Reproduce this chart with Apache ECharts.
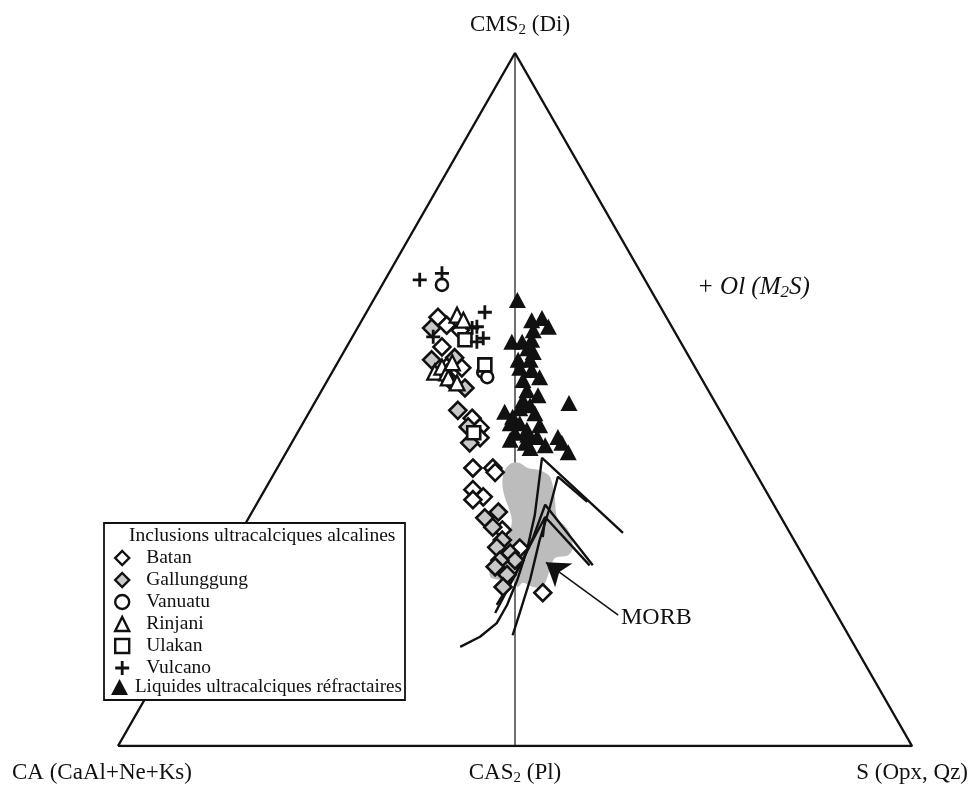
<!DOCTYPE html>
<html>
<head>
<meta charset="utf-8">
<script src="https://cdn.jsdelivr.net/npm/echarts@6/dist/echarts.min.js"></script>
<style>
html,body{margin:0;padding:0;background:#fff;}
#c{width:973px;height:785px;}
</style>
</head>
<body>
<div id="c"></div>
<script>
// Ternary diagram in relative units: x 0..100 along base (CA -> S), y 0..100 up to CMS2 apex
const triangle = [[0,0],[100,0],[50,100],[0,0]];
const midline = [[50,0],[50,100]];

const batan = [[40.3,61.86],[41.4,60.71],[43.1,59.98],[40.8,57.59],[41.4,54.68],[43.3,54.57],[41.8,52.81],
  [44.6,47.29],[45.6,45.94],[45.6,44.48],[44.7,40.11],[47.2,40.11],[47.5,39.49],[44.7,36.99],[46.0,35.95],
  [44.7,35.54],[48.4,31.17],[50.6,28.56],[53.5,22.11]];
const gallunggung = [[39.5,60.30],[39.5,55.72],[42.4,56.03],[43.7,51.66],[42.8,48.44],[44.1,46.04],[44.3,43.75],
  [46.2,32.93],[47.9,33.77],[47.2,31.58],[48.4,29.71],[47.7,28.67],[49.4,27.84],[50.0,26.80],[48.1,26.80],
  [47.5,25.86],[49.0,24.72],[48.5,22.95]];
const vanuatu = [[40.8,66.54],[46.0,53.95],[46.5,53.22]];
const rinjani = [[42.7,62.17],[43.5,61.44],[39.9,53.95],[40.8,54.68],[41.4,53.85],[41.6,53.12],[42.7,52.39],[42.1,55.30]];
const ulakan = [[43.7,58.63],[46.2,54.99],[44.8,45.21]];
const vulcano = [[38.0,67.27],[40.8,68.20],[46.2,62.59],[44.6,60.30],[45.2,60.50],[46.0,58.84],[45.2,58.32],[39.7,59.05]];
const liquides = [[50.3,64.35],[52.1,61.44],[53.4,61.75],[54.2,60.50],[52.3,59.98],[49.6,58.32],[50.9,58.32],
  [52.1,58.63],[52.3,56.86],[51.6,57.4],[50.4,55.72],[51.9,55.72],[50.6,54.57],[52.1,54.26],[53.1,53.22],
  [51.0,52.81],[51.5,51.35],[52.9,50.6],[51.0,49.89],[51.9,49.16],[50.6,48.75],[48.7,48.23],[49.7,47.50],
  [52.5,48.02],[49.4,46.56],[50.6,46.56],[53.1,46.3],[51.5,45.63],[50.0,45.2],[52.8,44.59],[51.3,43.75],
  [51.6,44.90],[49.4,44.2],[53.8,43.4],[51.9,43.0],[55.4,44.59],[55.9,43.75],[56.7,42.40],[56.8,49.48]];

const morbField = [[49.6,40.84],[50.6,40.84],[51.6,40.11],[53.1,39.80],[54.4,38.86],[55.0,35.95],[55.3,33.04],
  [56.7,31.17],[57.3,28.67],[56.7,27.52],[55.0,27.11],[54.4,25.44],[53.5,22.95],[52.3,22.95],[51.0,23.57],
  [50.3,22.95],[49.6,23.99],[48.1,23.99],[46.9,24.40],[46.9,25.86],[48.1,27.32],[49.0,29.71],[49.6,32.62],
  [48.7,35.95],[48.4,37.93],[48.7,39.80]];

const curveA = [[43.1,14.31],[45.6,15.77],[47.7,17.74],[49.0,20.35],[50.3,23.99],[51.5,28.25],[52.5,33.35],[53.4,41.57],[63.6,30.75]];
const curveB = [[49.7,15.98],[50.6,19.20],[51.9,23.99],[53.1,29.71],[54.4,34.49],[55.4,38.86],[59.1,35.22]];
const curveC = [[47.5,19.20],[48.7,21.80],[49.7,23.99],[51.0,26.80],[52.3,30.13],[53.8,34.81],[59.8,26.07]];
const curveD = [[47.7,20.35],[50.0,24.72],[51.9,28.98],[53.8,33.04],[59.4,26.07]];
const curveE = [[53.8,33.04],[53.5,30.13]];
const arrow = [[63.0,18.9],[53.9,26.5]];

const legendItems = ['Batan','Gallunggung','Vanuatu','Rinjani','Ulakan','Vulcano'];
const legendLiq = 'Liquides ultracalciques réfractaires';

const serif = '"Liberation Serif", "DejaVu Serif", serif';
const plusPath = 'path://M4,0H6V4H10V6H6V10H4V6H0V4H4Z';

function lineSeries(data, w){
  return {type:'line', data:data, showSymbol:false, symbol:'none',
    lineStyle:{color:'#111', width:w}, z:3, silent:true};
}
function scatter(name, data, symbol, size, fill, bw){
  return {type:'scatter', name:name, data:data, symbol:symbol, symbolSize:size,
    itemStyle:{color:fill, borderColor:'#111', borderWidth:bw, opacity:1}, z:5};
}

const chart = echarts.init(document.getElementById('c'));
chart.setOption({
  animation:false,
  grid:{left:118, right:61, top:53, bottom:39},
  xAxis:{type:'value', min:0, max:100, show:false},
  yAxis:{type:'value', min:0, max:100, show:false},
  legend:[
    {orient:'vertical', left:114, top:548, padding:0, itemWidth:14, itemHeight:14, itemGap:2, z:20,
     data:legendItems, itemStyle:{borderWidth:2.4},
     textStyle:{fontFamily:serif, fontSize:19.5, lineHeight:20, color:'#111', padding:[0,0,0,12]}},
    {orient:'vertical', left:111, top:677, padding:0, itemWidth:17, itemHeight:16, itemGap:2, z:20,
     data:[legendLiq],
     textStyle:{fontFamily:serif, fontSize:19, lineHeight:20, color:'#111', padding:[0,0,0,2]}}
  ],
  graphic:[
    {type:'rect', shape:{x:104, y:523, width:301, height:177}, style:{fill:'#fff', stroke:'#111', lineWidth:1.8}, z:10},
    {type:'text', x:129, y:536, style:{text:'Inclusions ultracalciques alcalines', font:'19.5px '+serif, fill:'#111', textVerticalAlign:'middle'}, z:21},
    {type:'text', x:520, y:25, style:{text:'{a|CMS}{s|2}{a| (Di)}', textAlign:'center', textVerticalAlign:'middle',
      rich:{a:{fontSize:23, fontFamily:serif, fill:'#111', verticalAlign:'top', lineHeight:24},
            s:{fontSize:15, fontFamily:serif, fill:'#111', verticalAlign:'top', lineHeight:24, padding:[10,0,0,0]}}}},
    {type:'text', x:12, y:773, style:{text:'CA (CaAl+Ne+Ks)', font:'23px '+serif, fill:'#111', textVerticalAlign:'middle'}},
    {type:'text', x:515, y:773, style:{text:'{a|CAS}{s|2}{a| (Pl)}', textAlign:'center', textVerticalAlign:'middle',
      rich:{a:{fontSize:23, fontFamily:serif, fill:'#111', verticalAlign:'top', lineHeight:24},
            s:{fontSize:15, fontFamily:serif, fill:'#111', verticalAlign:'top', lineHeight:24, padding:[10,0,0,0]}}}},
    {type:'text', x:968, y:773, style:{text:'S (Opx, Qz)', font:'23px '+serif, fill:'#111', textAlign:'right', textVerticalAlign:'middle'}},
    {type:'text', x:697, y:288, style:{text:'{a|+ Ol (M}{s|2}{a|S)}', textVerticalAlign:'middle',
      rich:{a:{fontSize:25, fontStyle:'italic', fontFamily:serif, fill:'#111', verticalAlign:'top', lineHeight:27},
            s:{fontSize:17, fontStyle:'italic', fontFamily:serif, fill:'#111', verticalAlign:'top', lineHeight:27, padding:[10,0,0,0]}}}},
    {type:'text', x:621, y:618, style:{text:'MORB', font:'24px '+serif, fill:'#111', textVerticalAlign:'middle'}}
  ],
  series:[
    {type:'line', data:triangle, showSymbol:false, symbol:'none', lineStyle:{color:'#111', width:2.4}, z:1, silent:true},
    {type:'line', data:midline, showSymbol:false, symbol:'none', lineStyle:{color:'#111', width:1.2}, z:1, silent:true},
    {type:'custom', z:2, silent:true, data:[0],
     renderItem:function(params, api){
       const pts = morbField.map(p => api.coord(p));
       return {type:'polygon', shape:{points:pts, smooth:0.3}, style:{fill:'#bcbcbc', stroke:null}};
     }},
    lineSeries(curveA, 2.4),
    lineSeries(curveB, 2.4),
    lineSeries(curveC, 2.4),
    lineSeries(curveD, 2.4),
    lineSeries(curveE, 2.4),
    {type:'lines', coordinateSystem:'cartesian2d', z:4, silent:true,
     data:[{coords:arrow}], symbol:['none','arrow'], symbolSize:[14,22],
     lineStyle:{color:'#111', width:1.5, opacity:1}},
    scatter('Batan', batan, 'diamond', 17, '#ffffff', 2.6),
    scatter('Gallunggung', gallunggung, 'diamond', 17, '#c8c8c8', 2.6),
    scatter('Vanuatu', vanuatu, 'circle', 12, '#ffffff', 2.6),
    scatter('Rinjani', rinjani, 'triangle', 15, '#ffffff', 2.3),
    scatter('Ulakan', ulakan, 'rect', 13, '#ffffff', 2.6),
    {type:'scatter', name:'Vulcano', data:vulcano, symbol:plusPath, symbolSize:14,
     itemStyle:{color:'#111', opacity:1}, z:5},
    {type:'scatter', name:legendLiq, data:liquides, symbol:'triangle', symbolSize:[17,16],
     itemStyle:{color:'#111', opacity:1}, z:5}
  ]
});
</script>
</body>
</html>
